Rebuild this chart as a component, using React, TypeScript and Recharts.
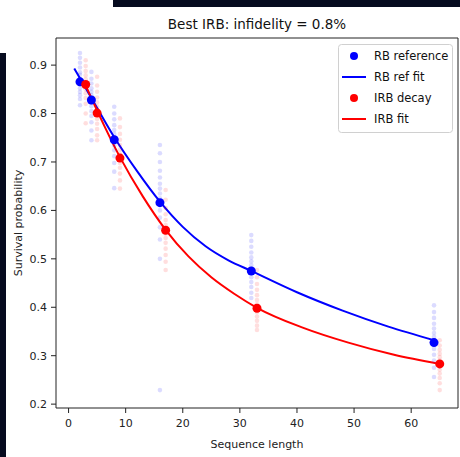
import { ComposedChart, Scatter, Line, XAxis, YAxis, Legend, ReferenceArea } from 'recharts'

// mean survival per sequence length (IRB points are shifted by +1 in the plot)
const rbLengths = [2, 4, 8, 16, 32, 64]
const rbMeans = [0.8655, 0.828, 0.746, 0.616, 0.475, 0.327]
const irbLengths = [3, 5, 9, 17, 33, 65]
const irbMeans = [0.86, 0.801, 0.708, 0.559, 0.398, 0.283]

// individual random sequences (faint points)
const rbSamples = [
  [0.925, 0.915, 0.905, 0.895, 0.885, 0.88, 0.872, 0.865, 0.86, 0.852, 0.845, 0.838, 0.83, 0.817],
  [0.886, 0.872, 0.862, 0.852, 0.845, 0.838, 0.83, 0.822, 0.815, 0.805, 0.795, 0.782, 0.765, 0.745],
  [0.814, 0.8, 0.788, 0.776, 0.766, 0.758, 0.75, 0.742, 0.734, 0.724, 0.712, 0.698, 0.68, 0.646],
  [0.735, 0.718, 0.7, 0.682, 0.668, 0.655, 0.645, 0.635, 0.625, 0.612, 0.6, 0.585, 0.565, 0.54, 0.5, 0.229],
  [0.549, 0.537, 0.525, 0.513, 0.503, 0.495, 0.487, 0.479, 0.471, 0.462, 0.452, 0.442, 0.43, 0.419],
  [0.404, 0.39, 0.378, 0.366, 0.356, 0.347, 0.339, 0.331, 0.323, 0.314, 0.302, 0.29, 0.275, 0.256],
]
const irbSamples = [
  [0.91, 0.898, 0.888, 0.879, 0.871, 0.864, 0.857, 0.85, 0.842, 0.832, 0.82, 0.8, 0.78],
  [0.876, 0.858, 0.845, 0.833, 0.823, 0.814, 0.806, 0.798, 0.789, 0.779, 0.768, 0.755, 0.745],
  [0.79, 0.772, 0.758, 0.746, 0.735, 0.725, 0.716, 0.707, 0.698, 0.688, 0.676, 0.662, 0.645],
  [0.642, 0.622, 0.605, 0.592, 0.58, 0.57, 0.561, 0.552, 0.543, 0.533, 0.521, 0.508, 0.494, 0.477],
  [0.477, 0.462, 0.448, 0.436, 0.425, 0.415, 0.406, 0.398, 0.39, 0.381, 0.372, 0.362, 0.353],
  [0.332, 0.321, 0.312, 0.304, 0.297, 0.29, 0.284, 0.278, 0.271, 0.263, 0.254, 0.243, 0.229],
]

// fitted decay curves
const rbFitLengths = [1, 4, 8, 12, 16, 20, 24, 28, 32, 40, 48, 56, 64]
const rbFitValues = [0.893, 0.832, 0.751, 0.681, 0.618, 0.566, 0.526, 0.497, 0.475, 0.431, 0.393, 0.36, 0.332]
const irbFitLengths = [3, 5, 9, 13, 17, 21, 25, 29, 33, 41, 49, 57, 65]
const irbFitValues = [0.858, 0.806, 0.71, 0.629, 0.56, 0.505, 0.462, 0.428, 0.399, 0.358, 0.327, 0.302, 0.283]

const xTicks = [0, 10, 20, 30, 40, 50, 60]
const yTicks = [0.2, 0.3, 0.4, 0.5, 0.6, 0.7, 0.8, 0.9]

const BLUE = '#0000ff'
const RED = '#ff0000'
const FONT = 'DejaVu Sans'

const toPoints = (xs: number[], ys: number[]) => xs.map((m, i) => ({ m, p: ys[i] }))
const toCloud = (xs: number[], cols: number[][]) =>
  xs.flatMap((m, i) => cols[i].map((p) => ({ m, p })))

const rbMeanData = toPoints(rbLengths, rbMeans)
const irbMeanData = toPoints(irbLengths, irbMeans)
const rbCloud = toCloud(rbLengths, rbSamples)
const irbCloud = toCloud(irbLengths, irbSamples)
const rbFit = toPoints(rbFitLengths, rbFitValues)
const irbFit = toPoints(irbFitLengths, irbFitValues)

const dot = (color: string, r: number, opacity = 1) => (props: any) =>
  <circle cx={props.cx} cy={props.cy} r={r} fill={color} fillOpacity={opacity} />

const legendItems = [
  { label: 'RB reference', color: BLUE, kind: 'dot' },
  { label: 'RB ref fit', color: BLUE, kind: 'line' },
  { label: 'IRB decay', color: RED, kind: 'dot' },
  { label: 'IRB fit', color: RED, kind: 'line' },
]

function LegendBox() {
  return (
    <svg width={115} height={89} style={{ display: 'block' }}>
      <rect x={0.5} y={0.5} width={114} height={88} rx={3} fill="#fff" stroke="#d0d0d0" />
      {legendItems.map((it, i) => {
        const y = 12 + i * 21
        return (
          <g key={it.label}>
            {it.kind === 'dot' ? (
              <circle cx={16} cy={y} r={4} fill={it.color} />
            ) : (
              <line x1={4} x2={28} y1={y} y2={y} stroke={it.color} strokeWidth={2} />
            )}
            <text x={36} y={y + 4} fontSize={11.5} fontFamily={FONT} fill="#111">
              {it.label}
            </text>
          </g>
        )
      })}
    </svg>
  )
}

export default function App() {
  return (
    <div style={{ position: 'absolute', left: 0, top: 0, width: 460, height: 457, background: '#fff' }}>
      <ComposedChart width={460} height={457} margin={{ top: 38, right: 2, bottom: 0, left: 0 }}>
        <XAxis
          dataKey="m"
          type="number"
          domain={[-2.2, 68.2]}
          allowDataOverflow
          ticks={xTicks}
          height={49}
          axisLine={false}
          tickSize={5}
          tickMargin={6}
          tickLine={{ stroke: '#222' }}
          tick={{ fontSize: 11, fontFamily: FONT, fill: '#222' }}
          label={{ value: 'Sequence length', position: 'insideBottom', offset: 9, fontSize: 11, fontFamily: FONT, fill: '#222' }}
        />
        <YAxis
          dataKey="p"
          type="number"
          domain={[0.192, 0.956]}
          allowDataOverflow
          ticks={yTicks}
          width={56}
          axisLine={false}
          tickSize={5}
          tickMargin={4}
          tickLine={{ stroke: '#222' }}
          tickFormatter={(v: number) => v.toFixed(1)}
          tick={{ fontSize: 11, fontFamily: FONT, fill: '#222' }}
          label={{ value: 'Survival probability', angle: -90, position: 'insideLeft', offset: 18, style: { textAnchor: 'middle' }, fontSize: 11, fontFamily: FONT, fill: '#222' }}
        />
        <ReferenceArea x1={-2.2} x2={68.2} y1={0.192} y2={0.956} fill="none" stroke="#222" strokeWidth={1} />
        <Scatter data={rbCloud} fill={BLUE} shape={dot(BLUE, 2.3, 0.14)} isAnimationActive={false} />
        <Scatter data={irbCloud} fill={RED} shape={dot(RED, 2.3, 0.13)} isAnimationActive={false} />
        <Scatter name="RB reference" data={rbMeanData} fill={BLUE} shape={dot(BLUE, 4.5)} isAnimationActive={false} />
        <Line name="RB ref fit" data={rbFit} dataKey="p" type="monotone" stroke={BLUE} strokeWidth={2} dot={false} isAnimationActive={false} />
        <Scatter name="IRB decay" data={irbMeanData} fill={RED} shape={dot(RED, 4.5)} isAnimationActive={false} />
        <Line name="IRB fit" data={irbFit} dataKey="p" type="monotone" stroke={RED} strokeWidth={2} dot={false} isAnimationActive={false} />
        <Legend
          layout="vertical"
          align="center"
          verticalAlign="middle"
          content={() => <LegendBox />}
          wrapperStyle={{ position: 'absolute', left: 338, top: 44, width: 115, height: 89 }}
        />
      </ComposedChart>
      <svg width={460} height={457} style={{ position: 'absolute', left: 0, top: 0, pointerEvents: 'none' }}>
        <rect x={113} y={0} width={347} height={7} fill="#060b1f" />
        <rect x={0} y={53} width={6} height={404} fill="#060b1f" />
        <text x={257} y={29} textAnchor="middle" fontSize={13.5} fontFamily={FONT} fill="#111">
          Best IRB: infidelity = 0.8%
        </text>
      </svg>
    </div>
  )
}
